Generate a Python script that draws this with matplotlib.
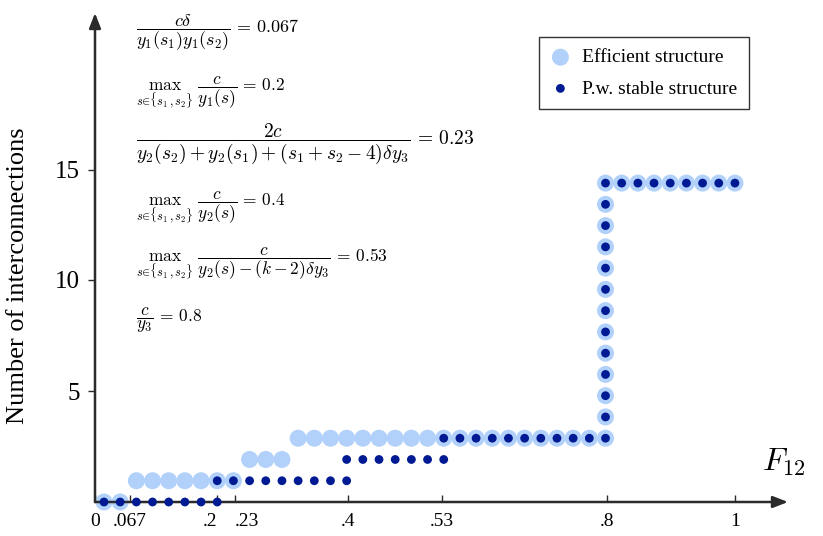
import matplotlib
matplotlib.use("Agg")
import matplotlib.pyplot as plt

plt.rcParams['font.family'] = ['Liberation Serif', 'DejaVu Serif']
plt.rcParams['mathtext.fontset'] = 'cm'

# efficient structure (x = F12, y = number of interconnections)
eff_x = [0.025, 0.05,
         0.075, 0.1, 0.125, 0.15, 0.175, 0.2, 0.225,
         0.25, 0.275, 0.3,
         0.325, 0.35, 0.375, 0.4, 0.425, 0.45, 0.475, 0.5, 0.525, 0.55,
         0.575, 0.6, 0.625, 0.65, 0.675, 0.7, 0.725, 0.75, 0.775, 0.8,
         0.8, 0.8, 0.8, 0.8, 0.8, 0.8, 0.8, 0.8, 0.8, 0.8, 0.8, 0.8,
         0.825, 0.85, 0.875, 0.9, 0.925, 0.95, 0.975, 1.0]
eff_y = [0, 0,
         1, 1, 1, 1, 1, 1, 1,
         2, 2, 2,
         3, 3, 3, 3, 3, 3, 3, 3, 3, 3,
         3, 3, 3, 3, 3, 3, 3, 3, 3, 3,
         4, 5, 6, 7, 8, 9, 10, 11, 12, 13, 14, 15,
         15, 15, 15, 15, 15, 15, 15, 15]

# pairwise stable structure
pws_x = [0.025, 0.05, 0.075, 0.1, 0.125, 0.15, 0.175, 0.2,
         0.2, 0.225, 0.25, 0.275, 0.3, 0.325, 0.35, 0.375, 0.4,
         0.4, 0.425, 0.45, 0.475, 0.5, 0.525, 0.55,
         0.55, 0.575, 0.6, 0.625, 0.65, 0.675, 0.7, 0.725, 0.75, 0.775, 0.8,
         0.8, 0.8, 0.8, 0.8, 0.8, 0.8, 0.8, 0.8, 0.8, 0.8, 0.8, 0.8,
         0.825, 0.85, 0.875, 0.9, 0.925, 0.95, 0.975, 1.0]
pws_y = [0, 0, 0, 0, 0, 0, 0, 0,
         1, 1, 1, 1, 1, 1, 1, 1, 1,
         2, 2, 2, 2, 2, 2, 2,
         3, 3, 3, 3, 3, 3, 3, 3, 3, 3, 3,
         4, 5, 6, 7, 8, 9, 10, 11, 12, 13, 14, 15,
         15, 15, 15, 15, 15, 15, 15, 15]

xtick_labels = ['0', '.067', '.2', '.23', '.4', '.53', '.8', '1']
ytick_labels = ['5', '10', '15']

formulas = [
    r'$\dfrac{c\delta}{y_1(s_1)y_1(s_2)}\,=\,0.067$',
    r'$\max_{s\in\{s_1,s_2\}}\ \dfrac{c}{y_1(s)}\,=\,0.2$',
    r'$\dfrac{2c}{y_2(s_2)+y_2(s_1)+(s_1+s_2-4)\delta y_3}\,=\,0.23$',
    r'$\max_{s\in\{s_1,s_2\}}\ \dfrac{c}{y_2(s)}\,=\,0.4$',
    r'$\max_{s\in\{s_1,s_2\}}\ \dfrac{c}{y_2(s)-(k-2)\delta y_3}\,=\,0.53$',
    r'$\dfrac{c}{y_3}\,=\,0.8$',
]

W, H = 823, 536
fig = plt.figure(figsize=(W / 100, H / 100), dpi=100)
ax = fig.add_axes([95 / W, (H - 502) / H, (788 - 95) / W, (502 - 13) / H])

light = '#b1d1fb'
dark = '#001a93'
axcol = '#2b2b2b'

ax.scatter(eff_x, eff_y, s=150, color=light, edgecolors='none', zorder=3,
           label='Efficient structure', clip_on=False)
ax.scatter(pws_x, pws_y, s=40, color=dark, edgecolors='none', zorder=4,
           label='P.w. stable structure', clip_on=False)

ax.set_xlim(0.0111, 1.082)
ax.set_ylim(0, 23.0)

for s in ax.spines.values():
    s.set_visible(False)
arrow = dict(arrowstyle='-|>,head_length=0.9,head_width=0.35', color=axcol,
             lw=1.8, shrinkA=0, shrinkB=0)
ax.annotate('', xy=(1, 0), xytext=(0, 0), xycoords='axes fraction',
            textcoords='axes fraction', arrowprops=arrow)
ax.annotate('', xy=(0, 1), xytext=(0, 0), xycoords='axes fraction',
            textcoords='axes fraction', arrowprops=arrow)

ax.set_xticks([0.0111, 0.065, 0.2, 0.2275, 0.402, 0.547, 0.803, 1.0])
ax.set_xticklabels(xtick_labels, fontsize=14)
ax.set_yticks([5.22, 10.45, 15.62])
ax.set_yticklabels(ytick_labels, fontsize=18)
ax.tick_params(axis='x', direction='in', length=5, width=1, color=axcol, pad=8)
ax.tick_params(axis='y', direction='out', length=5, width=1, color=axcol, pad=6)
labs = ax.get_xticklabels()
labs[2].set_ha('right')
labs[3].set_ha('left')

ax.set_ylabel('Number of interconnections', fontsize=19)
ax.yaxis.set_label_coords(-0.095, 0.462)
fig.text(762 / W, 1 - 462 / H, r'$F_{12}$', fontsize=23, ha='left', va='center')

sizes = [13, 12.5, 14, 12.5, 12.5, 12.5]
ys = [33, 93, 144, 208, 264, 320]
for f, fs, y in zip(formulas, sizes, ys):
    fig.text(136 / W, 1 - y / H, f, fontsize=fs, ha='left', va='center')

leg = ax.legend(loc='upper left', bbox_to_anchor=(539 / W, 1 - 37 / H),
                bbox_transform=fig.transFigure, fontsize=14, frameon=True,
                fancybox=False, edgecolor='black', borderpad=0.6,
                labelspacing=0.7, handlelength=1.0, handletextpad=0.6,
                borderaxespad=0)
leg.get_frame().set_linewidth(1.0)

fig.savefig('out.png', dpi=100)
